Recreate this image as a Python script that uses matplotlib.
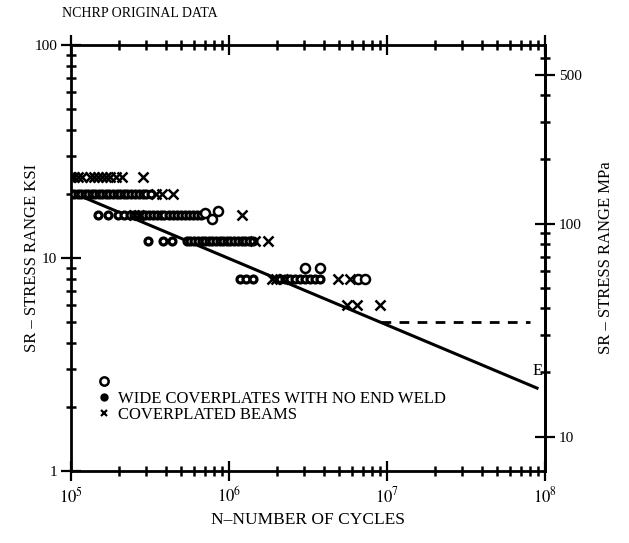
import matplotlib
matplotlib.use("Agg")
import matplotlib.pyplot as plt
from matplotlib.lines import Line2D
import numpy as np

plt.rcParams['font.family'] = ['Liberation Serif', 'DejaVu Serif']
plt.rcParams['mathtext.fontset'] = 'stix'

# ---- data (cycles N, stress range ksi) ----
# coverplated beams (x)
x24_n = [1.00e5, 1.04e5, 1.10e5, 1.17e5, 1.32e5, 1.40e5, 1.48e5, 1.57e5, 1.66e5, 1.76e5, 1.93e5, 2.10e5, 2.86e5]
x24_s = [24] * len(x24_n)
x20_n = [3.45e5, 3.75e5, 4.40e5]
x20_s = [20] * len(x20_n)
x16_n = [2.5e5, 2.7e5, 1.20e6]
x16_s = [16] * len(x16_n)
x12_n = [1.46e6, 1.76e6]
x12_s = [12] * len(x12_n)
x8_n = [1.87e6, 1.99e6, 2.20e6, 4.90e6, 5.83e6]
x8_s = [8] * len(x8_n)
x6_n = [5.58e6, 6.46e6, 9.03e6]
x6_s = [6] * len(x6_n)

# wide coverplates with no end weld (small circles)
w20_n = [1.00e5, 1.05e5, 1.10e5, 1.16e5, 1.22e5, 1.28e5, 1.35e5, 1.42e5, 1.50e5, 1.58e5, 1.66e5,
         1.75e5, 1.85e5, 1.95e5, 2.05e5, 2.15e5, 2.25e5, 2.40e5, 2.55e5, 2.70e5, 2.85e5, 3.00e5, 3.20e5]
w20_s = [20] * len(w20_n)
w16_n = [1.48e5, 1.71e5, 1.98e5, 2.17e5, 2.36e5, 2.50e5, 2.65e5, 2.80e5, 2.95e5, 3.10e5, 3.30e5,
         3.50e5, 3.70e5, 3.90e5, 4.15e5, 4.40e5, 4.70e5, 5.00e5, 5.30e5, 5.60e5, 5.95e5, 6.30e5, 6.60e5]
w16_s = [16] * len(w16_n)
w12_n = [3.07e5, 3.82e5, 4.36e5, 5.42e5, 5.70e5, 6.00e5, 6.35e5, 6.70e5, 7.05e5, 7.45e5, 7.85e5,
         8.30e5, 8.75e5, 9.20e5, 9.70e5, 1.02e6, 1.08e6, 1.14e6, 1.20e6, 1.27e6, 1.34e6, 1.42e6]
w12_s = [12] * len(w12_n)
w8_n = [1.18e6, 1.29e6, 1.42e6, 2.10e6, 2.26e6, 2.43e6, 2.62e6, 2.81e6, 3.03e6, 3.26e6, 3.50e6, 3.77e6]
w8_s = [8] * len(w8_n)

# unlabelled legend symbol (large open circles)
c_n = [7.0e5, 7.8e5, 8.5e5, 3.03e6, 3.77e6, 6.55e6, 7.26e6]
c_s = [16.2, 15.3, 16.6, 9.0, 9.0, 8.0, 8.0]

# category E design line and threshold
e_n = [1.0e5, 8.9e7]
e_s = [20.4, 2.45]
thr_n = [9.1e6, 8.0e7]
thr_s = [5.0, 5.0]

x_ticks = [1e5, 1e6, 1e7, 1e8]
x_labels = [r'$10^5$', r'$10^6$', r'$10^7$', r'$10^8$']
y_ticks = [1, 10, 100]
y_labels = ['1', '10', '100']
mpa_ticks = [10, 100, 500]
mpa_labels = ['10', '100', '500']
mpa_minor = [20, 30, 40, 50, 60, 70, 80, 90, 200, 300, 400, 600]
KSI_TO_MPA = 6.895

fig = plt.figure(figsize=(6.29, 5.43), dpi=100)
ax = fig.add_axes([0.1129, 0.1326, 0.7536, 0.7845])
ax.set_xscale('log')
ax.set_yscale('log')
ax.set_xlim(1e5, 1e8)
ax.set_ylim(1, 100)

# design line
ax.plot(e_n, e_s, color='black', lw=2.2, zorder=2)
ax.plot(thr_n, thr_s, color='black', lw=2.0, ls=(0, (3.5, 3)), zorder=2)
ax.text(9.0e7, 2.95, 'E', fontsize=12, ha='center', va='center')

wkw = dict(ls='none', marker='o', ms=5, mfc='white', mec='black', mew=2.3, zorder=3)
xkw = dict(ls='none', marker='x', ms=6.5, color='black', mew=1.8, zorder=3)
ckw = dict(ls='none', marker='o', ms=6.5, mfc='white', mec='black', mew=1.8, zorder=4)

for n, s in [(w20_n, w20_s), (w16_n, w16_s), (w12_n, w12_s), (w8_n, w8_s)]:
    ax.plot(n, s, **wkw)
for n, s in [(x24_n, x24_s), (x20_n, x20_s), (x16_n, x16_s), (x12_n, x12_s), (x8_n, x8_s), (x6_n, x6_s)]:
    ax.plot(n, s, **xkw)
ax.plot(c_n, c_s, **ckw)

# axes styling
for sp in ax.spines.values():
    sp.set_linewidth(2.0)
ax.set_xticks(x_ticks)
ax.set_xticklabels(x_labels, fontsize=12)
ax.set_yticks(y_ticks)
ax.set_yticklabels(y_labels, fontsize=11)
ax.xaxis.set_minor_locator(matplotlib.ticker.LogLocator(base=10, subs=np.arange(2, 10)))
ax.yaxis.set_minor_locator(matplotlib.ticker.LogLocator(base=10, subs=np.arange(2, 10)))
ax.xaxis.set_minor_formatter(matplotlib.ticker.NullFormatter())
ax.yaxis.set_minor_formatter(matplotlib.ticker.NullFormatter())
ax.tick_params(which='major', direction='inout', length=14, width=1.6, top=True, right=False)
ax.tick_params(which='minor', direction='inout', length=7, width=1.8, top=True, right=False)
ax.tick_params(axis='x', which='major', pad=4)
ax.tick_params(axis='y', which='major', pad=3)

sec = ax.secondary_yaxis('right', functions=(lambda v: v * KSI_TO_MPA, lambda v: v / KSI_TO_MPA))
sec.set_yticks(mpa_ticks)
sec.set_yticklabels(mpa_labels, fontsize=11)
sec.yaxis.set_minor_locator(matplotlib.ticker.FixedLocator(mpa_minor))
sec.yaxis.set_minor_formatter(matplotlib.ticker.NullFormatter())
sec.tick_params(which='major', direction='inout', length=14, width=1.6, pad=3)
sec.tick_params(which='minor', direction='inout', length=7, width=1.8)
sec.spines['right'].set_linewidth(2.0)
sec.set_ylabel('SR – STRESS RANGE MPa', fontsize=12, labelpad=12)

ax.set_xlabel('N–NUMBER OF CYCLES', fontsize=12.5, labelpad=4)
ax.set_ylabel('SR – STRESS RANGE KSI', fontsize=12)
ax.yaxis.set_label_coords(-0.066, 0.5)

fig.text(0.099, 0.976, 'NCHRP ORIGINAL DATA', fontsize=10, ha='left', va='center')

handles = [
    Line2D([], [], ls='none', marker='o', ms=6, mfc='white', mec='black', mew=1.8),
    Line2D([], [], ls='none', marker='o', ms=4.5, mfc='black', mec='black', mew=1.5),
    Line2D([], [], ls='none', marker='x', ms=5, color='black', mew=1.6),
]
ax.legend(handles, ['', 'WIDE COVERPLATES WITH NO END WELD', 'COVERPLATED BEAMS'],
          loc='upper left', bbox_to_anchor=(0.035, 0.252), frameon=False, fontsize=12,
          handlelength=0.6, handletextpad=0.5, labelspacing=0.0, borderpad=0.2)

fig.savefig('out.png', dpi=100)
